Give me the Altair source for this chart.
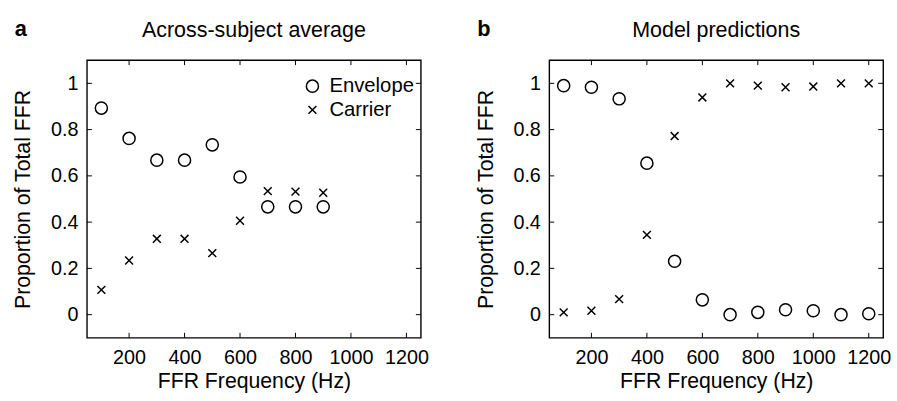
import altair as alt
import pandas as pd

# ---------------- data ----------------
freq_a = [100, 200, 300, 400, 500, 600, 700, 800, 900]
env_a = [0.893, 0.762, 0.668, 0.668, 0.734, 0.595, 0.466, 0.466, 0.466]
car_a = [0.107, 0.234, 0.328, 0.328, 0.266, 0.406, 0.534, 0.532, 0.527]

freq_b = [100, 200, 300, 400, 500, 600, 700, 800, 900, 1000, 1100, 1200]
env_b = [0.990, 0.983, 0.933, 0.655, 0.231, 0.064, 0.000, 0.010, 0.021, 0.017, 0.000, 0.004]
car_b = [0.010, 0.017, 0.067, 0.345, 0.772, 0.939, 1.000, 0.990, 0.983, 0.986, 1.000, 1.000]

series = ["Envelope", "Carrier"]
x_ticks = [200, 400, 600, 800, 1000, 1200]
y_ticks = [0, 0.2, 0.4, 0.6, 0.8, 1]
x_domain = [48, 1252]
y_domain = [-0.1, 1.1]

titles = ["Across-subject average", "Model predictions"]
letters = ["a", "b"]

FONT = "Liberation Sans"
W, H = 338, 281
TICK = 5
CROSS = "M-0.65,-0.65L0.65,0.65M-0.65,0.65L0.65,-0.65"


def long_df(freqs, env, car):
    rows = []
    for f, e in zip(freqs, env):
        rows.append({"freq": f, "prop": e, "series": "Envelope"})
    for f, c in zip(freqs, car):
        rows.append({"freq": f, "prop": c, "series": "Carrier"})
    return pd.DataFrame(rows)


xt_df = pd.DataFrame({"freq": x_ticks})
yt_df = pd.DataFrame({"prop": y_ticks})


def panel(df, title, letter, show_legend):
    xs = alt.Scale(domain=x_domain, nice=False, zero=False)
    ys = alt.Scale(domain=y_domain, nice=False, zero=False)
    if show_legend:
        legend = alt.Legend(
            title=None, orient="none", legendX=218, legendY=16,
            labelFont=FONT, labelFontSize=20.5, labelColor="black",
            symbolSize=150, symbolStrokeWidth=1.5, symbolStrokeColor="black",
            symbolFillColor="transparent", labelOffset=7, rowPadding=3,
            padding=0,
        )
    else:
        legend = None
    pts = alt.Chart(df).mark_point(filled=False, color="black", strokeWidth=1.5, size=150, opacity=1).encode(
        x=alt.X("freq:Q", scale=xs,
                axis=alt.Axis(title="FFR Frequency (Hz)", values=x_ticks, format="d")),
        y=alt.Y("prop:Q", scale=ys,
                axis=alt.Axis(title="Proportion of Total FFR", values=y_ticks, format="~g")),
        shape=alt.Shape("series:N", scale=alt.Scale(domain=series, range=["circle", CROSS]),
                        legend=legend),
    )
    xb = alt.Chart(xt_df).mark_rule(color="black", strokeWidth=1).encode(
        x=alt.X("freq:Q", scale=xs), y=alt.value(H), y2=alt.value(H - TICK))
    xtop = alt.Chart(xt_df).mark_rule(color="black", strokeWidth=1).encode(
        x=alt.X("freq:Q", scale=xs), y=alt.value(0), y2=alt.value(TICK))
    yl = alt.Chart(yt_df).mark_rule(color="black", strokeWidth=1).encode(
        y=alt.Y("prop:Q", scale=ys), x=alt.value(0), x2=alt.value(TICK))
    yr = alt.Chart(yt_df).mark_rule(color="black", strokeWidth=1).encode(
        y=alt.Y("prop:Q", scale=ys), x=alt.value(W), x2=alt.value(W - TICK))
    lab = alt.Chart(pd.DataFrame({"lbl": [letter]})).mark_text(
        font=FONT, fontSize=22, fontWeight="bold", align="left", baseline="alphabetic", color="black"
    ).encode(text="lbl:N", x=alt.value(-73), y=alt.value(-24))
    ttl = alt.Chart(pd.DataFrame({"ttl": [title]})).mark_text(
        font=FONT, fontSize=21.7, align="center", baseline="alphabetic", color="black"
    ).encode(text="ttl:N", x=alt.value(W / 2), y=alt.value(-23.5))
    return alt.layer(pts, xb, xtop, yl, yr, lab, ttl).properties(width=W, height=H)


pa = panel(long_df(freq_a, env_a, car_a), titles[0], letters[0], True)
pb = panel(long_df(freq_b, env_b, car_b), titles[1], letters[1], False)

chart = alt.hconcat(pa, pb, spacing=45).resolve_scale(shape="independent").properties(
    padding={"left": 12, "right": 5, "top": 15.5, "bottom": 2}
).configure_view(
    stroke="black", strokeWidth=1.4
).configure_axis(
    domain=False, ticks=False, tickSize=0, grid=False,
    labelFont=FONT, labelFontSize=20, labelColor="black", labelPadding=9,
    labelOverlap=False, labelBound=False, labelFlush=False,
    titleFont=FONT, titleFontSize=21.5, titleFontWeight="normal", titleColor="black",
).configure_axisX(titlePadding=3.5, labelPadding=10).configure_axisY(titlePadding=16)

chart.save("out.html", embed_options={"renderer": "svg", "actions": False})
